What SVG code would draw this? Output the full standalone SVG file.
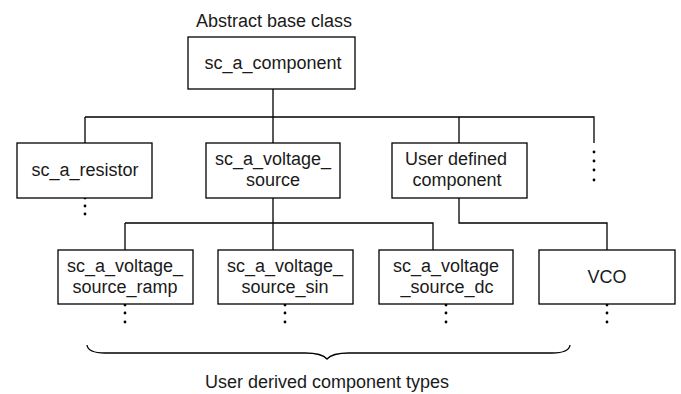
<svg xmlns="http://www.w3.org/2000/svg" width="681" height="394" viewBox="0 0 681 394">
<style>
.box{fill:#fff;stroke:#000;stroke-width:1.3}
.ln{fill:none;stroke:#000;stroke-width:1.3}
text{font-family:"Liberation Sans",Arial,sans-serif;font-size:18px;fill:#1a1a1a;text-anchor:middle}
.dot{fill:#000}
</style>
<rect width="681" height="394" fill="#fff"/>
<g id="connectors">
<path class="ln" d="M273 89V117M85 117H594V143M85 117V143M273 117V143M459 117V143"/>
<path class="ln" d="M273 198V250M125 223H433V250M125 223V250"/>
<path class="ln" d="M459 198V223H607V250"/>
</g>
<g id="dots">
<circle class="dot" cx="594" cy="152" r="1.4"/><circle class="dot" cx="594" cy="161" r="1.4"/><circle class="dot" cx="594" cy="170" r="1.4"/><circle class="dot" cx="594" cy="180" r="1.4"/>
<circle class="dot" cx="85" cy="198" r="1.4"/><circle class="dot" cx="85" cy="206" r="1.4"/><circle class="dot" cx="85" cy="214" r="1.4"/>
<circle class="dot" cx="125" cy="305" r="1.4"/><circle class="dot" cx="125" cy="313" r="1.4"/><circle class="dot" cx="125" cy="322" r="1.4"/>
<circle class="dot" cx="285" cy="305" r="1.4"/><circle class="dot" cx="285" cy="313" r="1.4"/><circle class="dot" cx="285" cy="322" r="1.4"/>
<circle class="dot" cx="446" cy="305" r="1.4"/><circle class="dot" cx="446" cy="313" r="1.4"/><circle class="dot" cx="446" cy="322" r="1.4"/>
<circle class="dot" cx="607" cy="305" r="1.4"/><circle class="dot" cx="607" cy="313" r="1.4"/><circle class="dot" cx="607" cy="322" r="1.4"/>
</g>
<text x="274" y="27">Abstract base class</text>
<g id="sc_a_component"><rect class="box" x="188" y="37" width="167" height="52"/><text x="273" y="69">sc_a_component</text></g>
<g id="sc_a_resistor"><rect class="box" x="17" y="143" width="135" height="55"/><text x="85" y="176">sc_a_resistor</text></g>
<g id="sc_a_voltage_source"><rect class="box" x="206" y="143" width="134" height="55"/><text x="273" y="165">sc_a_voltage_</text><text x="273" y="186">source</text></g>
<g id="user_defined"><rect class="box" x="392" y="143" width="135" height="55"/><text x="456" y="165">User defined</text><text x="457" y="186">component</text></g>
<g id="ramp"><rect class="box" x="58" y="250" width="135" height="54"/><text x="125" y="272">sc_a_voltage_</text><text x="125" y="293">source_ramp</text></g>
<g id="sin"><rect class="box" x="218" y="250" width="135" height="54"/><text x="285" y="272">sc_a_voltage_</text><text x="285" y="293">source_sin</text></g>
<g id="dc"><rect class="box" x="379" y="250" width="134" height="54"/><text x="446" y="272">sc_a_voltage</text><text x="447" y="293">_source_dc</text></g>
<g id="vco"><rect class="box" x="539" y="250" width="136" height="54"/><text x="607" y="283">VCO</text></g>
<g id="brace"><path class="ln" d="M87 345Q88 353 105 353H305Q322 353 327 359Q332 353 349 353H552Q569 353 570 345"/></g>
<text x="327" y="388">User derived component types</text>
</svg>
